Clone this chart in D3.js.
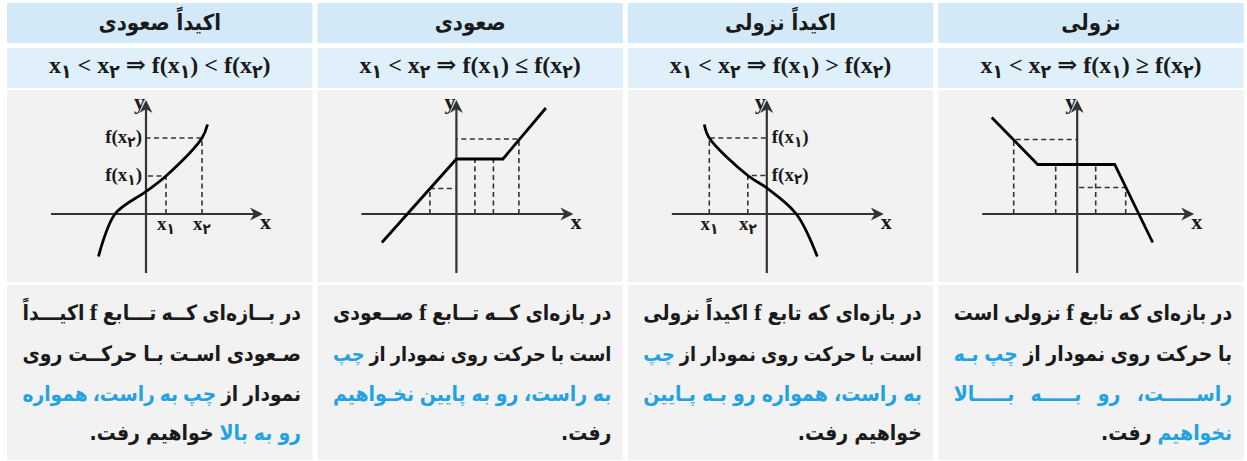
<!DOCTYPE html>
<html>
<head>
<meta charset="utf-8">
<script src="https://cdn.jsdelivr.net/npm/d3@7"></script>
<style>
  html, body { margin: 0; padding: 0; background: #fff; }
  svg { display: block; }
</style>
</head>
<body>
<div id="table"></div>
<script>
// columns, left to right as in the picture
const titles = ["اکیداً صعودی", "صعودی", "اکیداً نزولی", "نزولی"];
const relations = ["<", "≤", ">", "≥"];

// graph 1 : strictly increasing curve (units on the drawn axes)
const incCurve = [[-4.75, -4.25], [-3.1, 0], [0, 2.25], [2.0, 3.8], [5.6, 7.6], [6.15, 8.95]];
const incGuides = [[2.0, 3.8], [5.6, 7.6]];
// graph 2 : increasing (with a flat part)
const upLine = [[-7.45, -2.85], [0, 5.5], [4.65, 5.5], [8.95, 10.6]];
const upGuides = [[-2.65, 2.55], [1.85, 5.5], [3.7, 5.5], [6.25, 7.5]];
// graph 3 : strictly decreasing curve
const decCurve = [[-6.25, 8.95], [-5.75, 7.6], [-1.9, 3.85], [0, 2.6], [2.95, 0], [5.05, -4.25]];
const decGuides = [[-5.75, 7.6], [-1.9, 3.85]];
// graph 4 : decreasing (with a flat part)
const downLine = [[-8.55, 9.65], [-3.95, 4.95], [3.75, 4.95], [7.55, -2.85]];
const downGuides = [[-6.35, 7.45], [-2.15, 4.95], [1.85, 4.95], [4.85, 2.65]];

const xNames = ["x۱", "x۲"];
const fNames = ["f(x۱)", "f(x۲)"];

// the notes under each graph, line by line; true = highlighted words
const notes = [
  [
    [["در بـــازه‌ای کـــه تـــابع f اکیـــداً", false]],
    [["صـــعودی اســـت بـــا حرکـــت روی", false]],
    [["نمودار از", false], ["چپ به راست، همـــواره", true]],
    [["رو به بالا", true], ["خواهیم رفت.", false]]
  ],
  [
    [["در بازه‌ای کـــه تـــابع f صـــعودی", false]],
    [["است با حرکت روی نمودار از", false], ["چپ", true]],
    [["به راست، رو به پـــایین نخـــواهیم", true]],
    [["رفت.", false]]
  ],
  [
    [["در بازه‌ای که تابع f اکیداً نزولـــی", false]],
    [["است با حرکت روی نمودار از", false], ["چپ", true]],
    [["به راست، همـــواره رو بـــه پـــایین", true]],
    [["خواهیم رفت.", false]]
  ],
  [
    [["در بازه‌ای که تابع f نزولی اســـت", false]],
    [["با حرکت روی نمودار از", false], ["چـــپ بـــه", true]],
    [["راســـــت، رو بـــــه بـــــالا", true]],
    [["نخواهیم", true], ["رفت.", false]]
  ]
];

const graphs = [
  {points: incCurve, guides: incGuides, smooth: true, labels: "left"},
  {points: upLine, guides: upGuides, smooth: false},
  {points: decCurve, guides: decGuides, smooth: true, labels: "right"},
  {points: downLine, guides: downGuides, smooth: false}
];

const W = 1247, H = 461;
const ink = "#1a1a1a", axisInk = "#333", blue = "#22a2e2";
const persian = "'DejaVu Sans Condensed', 'DejaVu Sans', sans-serif";
const serif = "'Liberation Serif', 'DejaVu Serif', serif";

const svg = d3.select("#table").append("svg")
    .attr("width", W)
    .attr("height", H);

const colX = d3.scaleLinear().domain([0, 3]).range([7, 938.2]);
const colW = 305.5;
const rows = [
  {y: 3, h: 40, fill: "#d4e9f8"},
  {y: 48, h: 40, fill: "#dff0fb"},
  {y: 90, h: 192, fill: "#f2f2f2"},
  {y: 285, h: 175, fill: "#f2f2f2"}
];

// cells
rows.forEach(r => {
  svg.append("g").selectAll("rect")
    .data(d3.range(4))
    .join("rect")
    .attr("x", i => colX(i))
    .attr("y", r.y)
    .attr("width", colW)
    .attr("height", r.h)
    .attr("fill", r.fill);
});

// headers
svg.append("g").selectAll("text")
  .data(titles)
  .join("text")
  .attr("x", (d, i) => colX(i) + colW / 2)
  .attr("y", 30)
  .attr("text-anchor", "middle")
  .attr("direction", "rtl")
  .attr("font-family", persian)
  .attr("font-weight", "bold")
  .attr("font-size", 22)
  .attr("fill", ink)
  .text(d => d);

// writes math like f(x۱) with lowered persian digits
function mathText(sel, str, size) {
  const runs = [];
  for (const ch of str) {
    const sub = "۱۲".includes(ch);
    if (runs.length && runs[runs.length - 1].sub === sub) runs[runs.length - 1].t += ch;
    else runs.push({t: ch, sub: sub});
  }
  const shift = size * 0.2;
  runs.forEach((r, k) => {
    const ts = sel.append("tspan").text(r.t);
    if (r.sub) ts.attr("font-size", size * 0.8).attr("dy", shift).attr("font-family", persian);
    else if (k > 0 && runs[k - 1].sub) ts.attr("dy", -shift);
  });
}

// formulas
relations.forEach((rel, i) => {
  const t = svg.append("text")
    .attr("x", colX(i) + colW / 2)
    .attr("y", 73)
    .attr("text-anchor", "middle")
    .attr("font-family", serif)
    .attr("font-weight", "bold")
    .attr("font-size", 24)
    .attr("fill", ink)
    .attr("xml:space", "preserve");
  mathText(t, "x۱ < x۲ ⇒ f(x۱) " + rel + " f(x۲)", 24);
});

// graphs
graphs.forEach((g, i) => {
  const left = colX(i);
  const x = d3.scaleLinear().domain([-10, 12]).range([left + 39, left + 259]);
  const y = d3.scaleLinear().domain([-6, 12]).range([274, 94]);
  const gg = svg.append("g");

  gg.selectAll("path.guide")
    .data(g.guides)
    .join("path")
    .attr("class", "guide")
    .attr("d", d => `M${x(d[0])},${y(0)}V${y(d[1])}H${x(0)}`)
    .attr("fill", "none")
    .attr("stroke", axisInk)
    .attr("stroke-width", 1.6)
    .attr("stroke-dasharray", "5,3.5");

  // axes with arrows
  const xt = x(11.7), yt = y(11.4);
  gg.append("line")
    .attr("x1", x(-9.5)).attr("x2", xt - 8)
    .attr("y1", y(0)).attr("y2", y(0))
    .attr("stroke", axisInk).attr("stroke-width", 2.2);
  gg.append("line")
    .attr("x1", x(0)).attr("x2", x(0))
    .attr("y1", y(-5.9)).attr("y2", yt + 8)
    .attr("stroke", axisInk).attr("stroke-width", 2.2);
  gg.append("path")
    .attr("d", `M${xt},${y(0)}L${xt - 13},${y(0) - 6.5}L${xt - 9},${y(0)}L${xt - 13},${y(0) + 6.5}Z`)
    .attr("fill", axisInk);
  gg.append("path")
    .attr("d", `M${x(0)},${yt}L${x(0) - 6.5},${yt + 13}L${x(0)},${yt + 9}L${x(0) + 6.5},${yt + 13}Z`)
    .attr("fill", axisInk);

  gg.append("text")
    .attr("x", xt - 3).attr("y", y(0) + 15)
    .attr("font-family", serif).attr("font-weight", "bold").attr("font-size", 22)
    .attr("fill", ink).text("x");
  gg.append("text")
    .attr("x", x(0) - 1).attr("y", yt + 9)
    .attr("text-anchor", "end")
    .attr("font-family", serif).attr("font-weight", "bold").attr("font-size", 22)
    .attr("fill", ink).text("y");

  // the function
  gg.append("path")
    .datum(g.points)
    .attr("d", d3.line()
      .x(d => x(d[0]))
      .y(d => y(d[1]))
      .curve(g.smooth ? d3.curveCatmullRom : d3.curveLinear))
    .attr("fill", "none")
    .attr("stroke", "#000")
    .attr("stroke-width", 2.8)
    .attr("stroke-linejoin", "miter");

  if (g.labels) {
    g.guides.forEach((d, k) => {
      const tx = gg.append("text")
        .attr("x", x(d[0])).attr("y", y(0) + 16)
        .attr("text-anchor", "middle")
        .attr("font-family", serif).attr("font-weight", "bold").attr("font-size", 19)
        .attr("fill", ink);
      mathText(tx, xNames[k], 19);
      const ty = gg.append("text")
        .attr("x", g.labels === "left" ? x(0) - 4 : x(0) + 5)
        .attr("y", y(d[1]) + 5)
        .attr("text-anchor", g.labels === "left" ? "end" : "start")
        .attr("font-family", serif).attr("font-weight", "bold").attr("font-size", 19)
        .attr("fill", ink);
      mathText(ty, fNames[k], 19);
    });
  }
});

// notes, justified word by word from the right
const baselines = [320, 361, 401, 440];
const noteSize = 21;
const minGap = 5;
notes.forEach((lines, i) => {
  const right = colX(i) + colW - 11.5;
  const width = colW - 27;
  const gn = svg.append("g");
  lines.forEach((segs, li) => {
    const words = [];
    segs.forEach(([txt, hl]) => txt.split(" ").forEach(w => words.push({w: w, hl: hl})));
    const els = words.map(d => {
      const latin = d.w === "f";
      const t = gn.append("text")
        .attr("y", baselines[li])
        .attr("direction", "rtl")
        .attr("text-anchor", "start")
        .attr("font-family", latin ? serif : persian)
        .attr("font-weight", "bold")
        .attr("font-size", latin ? 23 : noteSize)
        .attr("fill", d.hl ? blue : ink)
        .text(d.w);
      return {t: t, w: d.w, len: t.node().getComputedTextLength()};
    });
    const fits = () => d3.sum(els, e => e.len) + minGap * (els.length - 1) <= width;
    // drop kashidas one by one while the line is too long
    while (!fits()) {
      let best = null, bestN = 0;
      els.forEach(e => {
        const n = (e.w.match(/ـ/g) || []).length;
        if (n > bestN) { bestN = n; best = e; }
      });
      if (!best) break;
      best.w = best.w.replace("ـ", "");
      best.t.text(best.w);
      best.len = best.t.node().getComputedTextLength();
    }
    let total = d3.sum(els, e => e.len);
    if (!fits()) {
      const k = (width - minGap * (els.length - 1)) / total;
      els.forEach(e => { e.t.attr("font-size", +e.t.attr("font-size") * k); e.len *= k; });
      total *= k;
    }
    const last = li === lines.length - 1;
    const gap = last || els.length < 2 ? 6 : (width - total) / (els.length - 1);
    let pos = right;
    els.forEach(e => {
      e.t.attr("x", pos);
      pos -= e.len + gap;
    });
  });
});
</script>
</body>
</html>
